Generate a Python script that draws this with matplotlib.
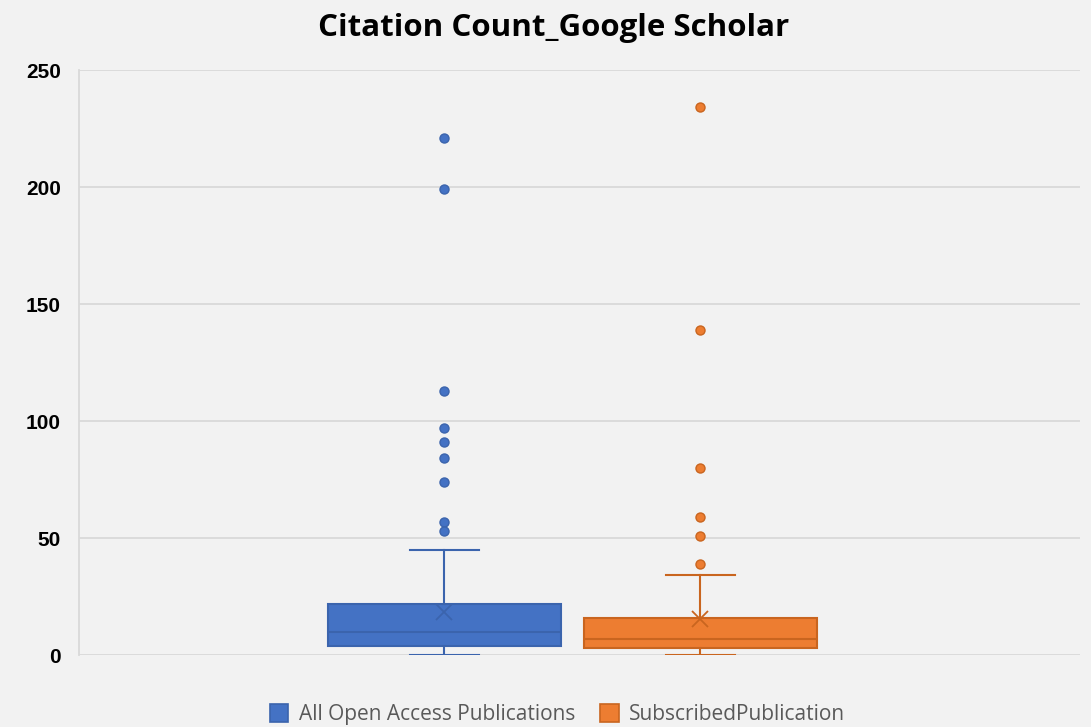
import matplotlib
matplotlib.use("Agg")
import matplotlib.pyplot as plt
from matplotlib.patches import Patch

# ---- data ----
series_names = ["All Open Access Publications", "SubscribedPublication"]
whislo = [0, 0]
q1 = [4, 3]
medians = [10, 7]
q3 = [22, 16]
whishi = [45, 34]
means = [18.5, 15.2]
outliers_oa = [221, 199, 113, 97, 91, 84, 74, 57, 53]
outliers_sub = [234, 139, 80, 59, 51, 39]
y_ticks = [0, 50, 100, 150, 200, 250]

fills = ["#4472C4", "#ED7D31"]
edges = ["#3B64AD", "#C9651F"]

fig = plt.figure(figsize=(10.91, 7.27), dpi=100, facecolor="#F2F2F2")
ax = fig.add_axes([0.0724, 0.099, 0.9176, 0.8047])
ax.set_facecolor("#F2F2F2")

positions = [-0.5, 0.5]
fliers = [outliers_oa, outliers_sub]
for i in range(2):
    stats = [dict(med=medians[i], q1=q1[i], q3=q3[i], whislo=whislo[i],
                  whishi=whishi[i], mean=means[i], fliers=fliers[i])]
    ax.bxp(stats, positions=[positions[i]], widths=0.91, showmeans=True,
           patch_artist=True, capwidths=0.27,
           boxprops=dict(facecolor=fills[i], edgecolor=edges[i], linewidth=1.5),
           medianprops=dict(color=edges[i], linewidth=1.5),
           whiskerprops=dict(color=edges[i], linewidth=1.5),
           capprops=dict(color=edges[i], linewidth=1.5),
           meanprops=dict(marker="x", markeredgecolor=edges[i], markersize=11,
                          markeredgewidth=1.3),
           flierprops=dict(marker="o", markerfacecolor=fills[i],
                           markeredgecolor=edges[i], markersize=6.5,
                           markeredgewidth=1.0))

ax.set_xlim(-1.926, 1.984)
ax.set_ylim(0, 250)
ax.set_yticks(y_ticks)
ax.set_yticklabels([str(t) for t in y_ticks], fontfamily="Liberation Sans",
                   fontweight="bold", fontsize=15)
ax.set_xticks([])
ax.tick_params(axis="y", length=0, pad=13)
for t in ax.get_yticklabels():
    t.set_horizontalalignment("right")

ax.grid(axis="y", color="#D9D9D9", linewidth=1.3)
ax.set_axisbelow(True)
for s in ["top", "right", "bottom"]:
    ax.spines[s].set_visible(False)
ax.spines["left"].set_color("#D9D9D9")
ax.spines["left"].set_linewidth(1.3)

fig.suptitle("Citation Count_Google Scholar", fontfamily="Open Sans",
             fontweight="bold", fontsize=22.5, x=0.507, y=0.982, va="top")

handles = [Patch(facecolor=fills[i], edgecolor=edges[i], linewidth=1.2)
           for i in range(2)]
leg = fig.legend(handles, series_names, loc="center", bbox_to_anchor=(0.511, 0.017),
                 ncol=2, frameon=False, prop=dict(family="Open Sans", size=15),
                 handlelength=0.9, handleheight=0.9, handletextpad=0.5,
                 columnspacing=1.2, labelcolor="#595959")

fig.savefig("out.png", dpi=100, facecolor="#F2F2F2")
